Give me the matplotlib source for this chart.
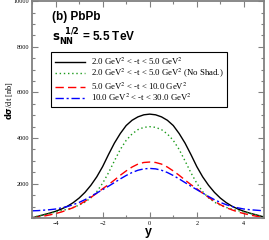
import numpy as np
import matplotlib
matplotlib.use("Agg")
import matplotlib.pyplot as plt
from matplotlib.ticker import MultipleLocator

# rapidity grid, 0 .. 5 (curves are symmetric in y)
y_half = [0.0, 0.25, 0.5, 0.75, 1.0, 1.25, 1.5, 1.75, 2.0, 2.25, 2.5,
          2.75, 3.0, 3.25, 3.5, 3.75, 4.0, 4.25, 4.5, 4.75, 5.0]

# d sigma / dt [nb]
s_2_5 = [5050, 5020, 4930, 4780, 4550, 4200, 3780, 3280, 2750, 2300, 1930,
         1620, 1370, 1170, 1010, 890, 790, 710, 640, 570, 500]
s_2_5_noshad = [4500, 4470, 4370, 4180, 3900, 3500, 3000, 2480, 2020, 1650, 1380,
                1190, 1060, 960, 880, 820, 760, 700, 640, 580, 520]
s_5_10 = [2950, 2930, 2860, 2730, 2560, 2370, 2160, 1960, 1780, 1580, 1400,
          1230, 1080, 950, 850, 760, 690, 630, 580, 530, 490]
s_10_30 = [2670, 2650, 2590, 2490, 2360, 2210, 2050, 1890, 1740, 1590, 1440,
           1300, 1180, 1080, 1000, 940, 890, 860, 840, 820, 810]

def full(h):
    return h[:0:-1] + h

y = [-v for v in y_half[:0:-1]] + y_half

series = [
    (full(s_2_5), 'black', '-', r"2.0 GeV$^2$ < -t < 5.0 GeV$^2$"),
    (full(s_2_5_noshad), '#1a9a1a', (0, (1, 2)), r"2.0 GeV$^2$ < -t < 5.0 GeV$^2$ (No Shad.)"),
    (full(s_5_10), 'red', (0, (6, 3)), r"5.0 GeV$^2$ < -t < 10.0 GeV$^2$"),
    (full(s_10_30), 'blue', (0, (6, 2, 1.5, 2)), r"10.0 GeV$^2$ < -t < 30.0 GeV$^2$"),
]

fig = plt.figure(figsize=(2.69, 2.40), dpi=100)
ax = fig.add_axes([0.119, 0.092, 0.862, 0.903])

for vals, col, ls, lab in series:
    ax.plot(y, vals, color=col, linestyle=ls, linewidth=1.0, label=lab)

ax.set_xlim(-5, 4.85)
ax.set_ylim(500, 10000)
ax.xaxis.set_major_locator(MultipleLocator(2))
ax.xaxis.set_minor_locator(MultipleLocator(1))
ax.yaxis.set_major_locator(MultipleLocator(2000))
ax.yaxis.set_minor_locator(MultipleLocator(500))
ax.tick_params(which='both', direction='in', top=True, right=True,
               color='#808080', labelsize=4.5, pad=2)
ax.tick_params(which='major', length=4, width=0.8)
ax.tick_params(which='minor', length=2, width=0.8)
for lbl in ax.get_xticklabels() + ax.get_yticklabels():
    lbl.set_family('Liberation Serif')
for s in ax.spines.values():
    s.set_color('#808080')
    s.set_linewidth(1.3)

ax.set_xlabel('y', fontsize=9, fontweight='bold', family='Liberation Sans', labelpad=0)
ax.set_ylabel(r"$\mathbf{d\sigma}$/dt [nb]", fontsize=6, family='Liberation Serif',
              math_fontfamily='dejavusans')
ax.yaxis.set_label_coords(-0.075, 0.54)

ax.text(0.086, 0.955, "(b) PbPb", transform=ax.transAxes, fontsize=8.5,
        fontweight='bold', family='Liberation Sans', va='top')
ax.text(0.086, 0.815, r"$\mathbf{s}_{\mathbf{NN}}^{\ \ \mathbf{1/2}}$ = 5.5 TeV",
        transform=ax.transAxes, fontsize=8.5, fontweight='bold',
        family='Liberation Sans', math_fontfamily='dejavusans')

leg = ax.legend(loc='upper left', bbox_to_anchor=(0.082, 0.765),
                prop={'family': 'Liberation Serif', 'size': 6.3, 'math_fontfamily': 'stix'},
                frameon=True, fancybox=False, edgecolor='black', framealpha=1,
                handlelength=3.5, handletextpad=0.7, labelspacing=0.02,
                borderpad=0.4, borderaxespad=0)
leg.get_frame().set_linewidth(0.8)

fig.savefig('out.png', dpi=100)
